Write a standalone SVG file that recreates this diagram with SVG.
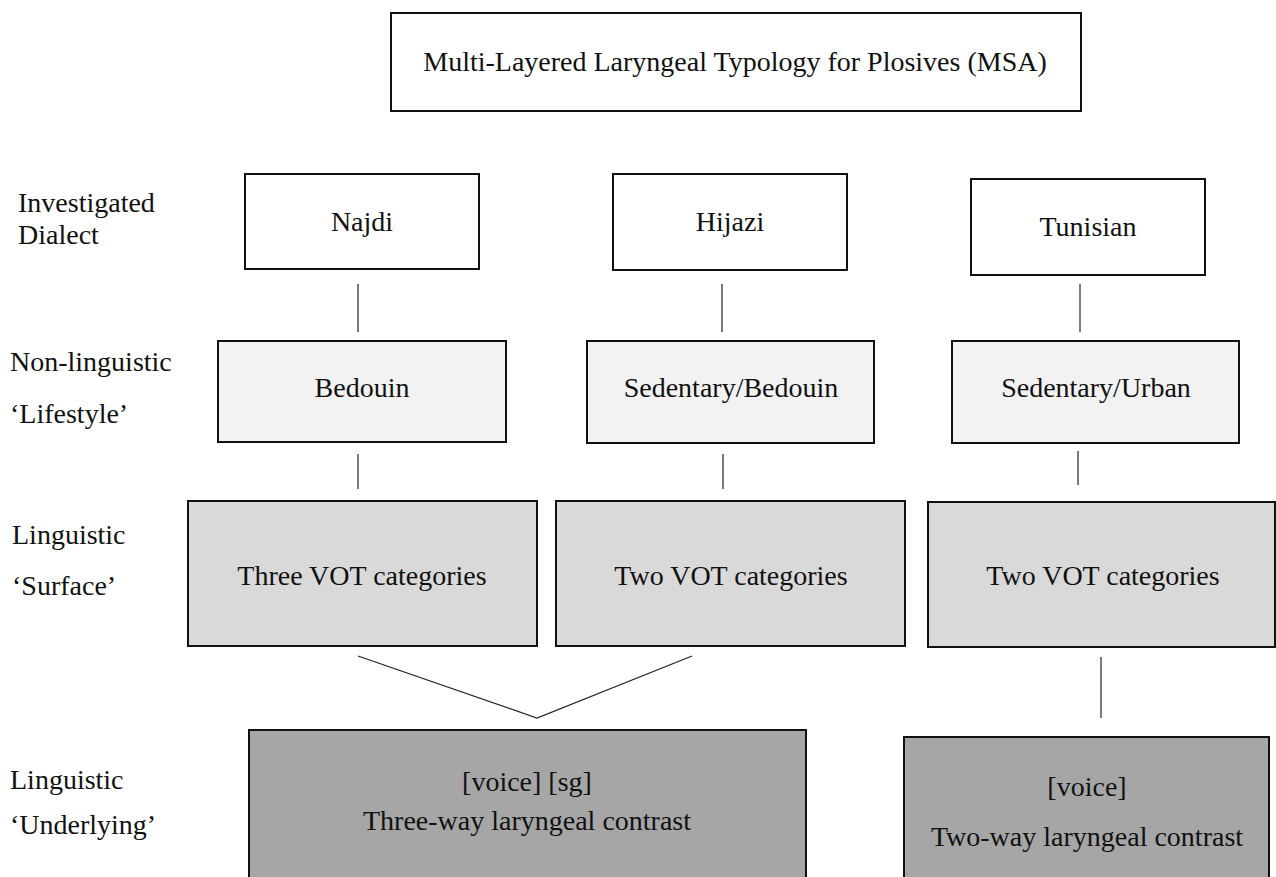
<svg xmlns="http://www.w3.org/2000/svg" width="1276" height="877" viewBox="0 0 1276 877">
  <style>
    text { font-family: "Liberation Serif", "Times New Roman", serif; font-size: 28px; fill: #111; }
    .c { text-anchor: middle; }
    .box { stroke: #111; stroke-width: 2; }
    .white { fill: #ffffff; }
    .light { fill: #f2f2f2; }
    .mid { fill: #d9d9d9; }
    .dark { fill: #a6a6a6; }
    .link { stroke: #222; stroke-width: 1.2; fill: none; }
  </style>

  <rect width="1276" height="877" fill="#ffffff"/>

  <!-- Row labels -->
  <g id="row-labels">
    <text x="18" y="212">Investigated</text>
    <text x="18" y="244">Dialect</text>
    <text x="10" y="371">Non-linguistic</text>
    <text x="10" y="423">‘Lifestyle’</text>
    <text x="12" y="544">Linguistic</text>
    <text x="12" y="595">‘Surface’</text>
    <text x="10" y="789">Linguistic</text>
    <text x="10" y="834">‘Underlying’</text>
  </g>

  <!-- Connectors -->
  <g id="connectors">
    <line class="link" x1="358" y1="284" x2="358" y2="332"/>
    <line class="link" x1="722" y1="284" x2="722" y2="332"/>
    <line class="link" x1="1080" y1="284" x2="1080" y2="332"/>
    <line class="link" x1="358" y1="454" x2="358" y2="489"/>
    <line class="link" x1="723" y1="454" x2="723" y2="489"/>
    <line class="link" x1="1078" y1="451" x2="1078" y2="485"/>
    <polyline class="link" points="358,656 537,718 692,656"/>
    <line class="link" x1="1101" y1="657" x2="1101" y2="718"/>
  </g>

  <!-- Title -->
  <g id="title">
    <rect class="box white" x="391" y="13" width="690" height="98"/>
    <text class="c" x="735" y="71">Multi-Layered Laryngeal Typology for Plosives (MSA)</text>
  </g>

  <!-- Dialects -->
  <g id="najdi">
    <rect class="box white" x="245" y="174" width="234" height="95"/>
    <text class="c" x="362" y="231">Najdi</text>
  </g>
  <g id="hijazi">
    <rect class="box white" x="613" y="174" width="234" height="96"/>
    <text class="c" x="730" y="231">Hijazi</text>
  </g>
  <g id="tunisian">
    <rect class="box white" x="971" y="179" width="234" height="96"/>
    <text class="c" x="1088" y="236">Tunisian</text>
  </g>

  <!-- Lifestyle -->
  <g id="bedouin">
    <rect class="box light" x="218" y="341" width="288" height="101"/>
    <text class="c" x="362" y="397">Bedouin</text>
  </g>
  <g id="sedentary-bedouin">
    <rect class="box light" x="587" y="341" width="287" height="102"/>
    <text class="c" x="731" y="397">Sedentary/Bedouin</text>
  </g>
  <g id="sedentary-urban">
    <rect class="box light" x="952" y="341" width="287" height="102"/>
    <text class="c" x="1096" y="397">Sedentary/Urban</text>
  </g>

  <!-- Surface -->
  <g id="surface-three">
    <rect class="box mid" x="188" y="501" width="349" height="145"/>
    <text class="c" x="362" y="585">Three VOT categories</text>
  </g>
  <g id="surface-two-a">
    <rect class="box mid" x="556" y="501" width="349" height="145"/>
    <text class="c" x="731" y="585">Two VOT categories</text>
  </g>
  <g id="surface-two-b">
    <rect class="box mid" x="928" y="502" width="347" height="145"/>
    <text class="c" x="1103" y="585">Two VOT categories</text>
  </g>

  <!-- Underlying -->
  <g id="underlying-three">
    <rect class="box dark" x="249" y="730" width="557" height="170"/>
    <text class="c" x="527" y="791">[voice] [sg]</text>
    <text class="c" x="527" y="830">Three-way laryngeal contrast</text>
  </g>
  <g id="underlying-two">
    <rect class="box dark" x="904" y="737" width="365" height="170"/>
    <text class="c" x="1087" y="796">[voice]</text>
    <text class="c" x="1087" y="846">Two-way laryngeal contrast</text>
  </g>
</svg>
